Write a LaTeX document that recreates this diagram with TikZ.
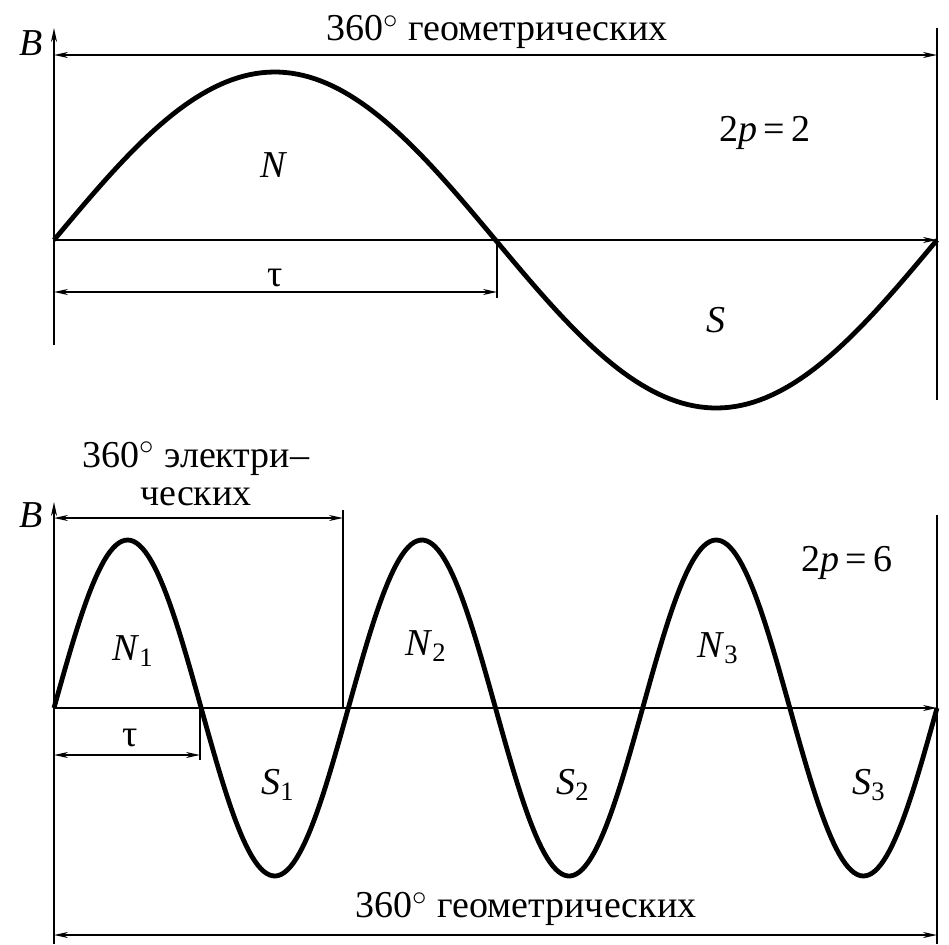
\documentclass[tikz,border=0pt]{standalone}
\usepackage{fontspec}
\setmainfont{Liberation Serif}
\usetikzlibrary{arrows.meta}
\begin{document}
\begin{tikzpicture}[
x=0.5pt,y=-0.5pt,
thinline/.style={line width=0.9pt},
dim/.style={line width=0.9pt,{Stealth[length=7pt,width=3pt]}-{Stealth[length=7pt,width=3pt]}},
axis/.style={line width=0.9pt,-{Stealth[length=7pt,width=3pt]}},
wave/.style={line width=2.4pt,line join=round},
every node/.style={font=\fontsize{19}{19}\selectfont,inner sep=0pt}
]
\useasboundingbox (0,0) rectangle (949,944);

% upper graph, 2p=2
\coordinate (o1) at (54,240);
\coordinate (e1) at (937,240);
\coordinate (t1) at (54,28);
\coordinate (b1) at (54,345);
\coordinate (r1t) at (937,28);
\coordinate (r1b) at (937,400);
\coordinate (d1l) at (54,55);
\coordinate (d1r) at (937,55);
\coordinate (z1) at (497,240);
\coordinate (z1b) at (497,298);
\coordinate (tau1l) at (54,292);
\coordinate (tau1r) at (497,292);

\draw[axis] (b1) -- (t1);
\draw[axis] (o1) -- (e1);
\draw[thinline] (r1t) -- (r1b);
\draw[dim] (d1l) -- (d1r);
\draw[thinline] (z1) -- (z1b);
\draw[dim] (tau1l) -- (tau1r);
\draw[wave] plot[domain=54:937,samples=150] (\x,{240-168*sin((\x-54)/883*360)});

\node (B1) at (31,43) {\textit{B}};
\node (geo1) at (497,32) {360$^{\circ}$ геометрических};
\node (N) at (274,165) {\textit{N}};
\node (S) at (716,320) {\textit{S}};
\node (p1) at (765,133) {2\textit{p}\,=\,2};
\node (tau1) at (275,278) {τ};

% lower graph, 2p=6
\coordinate (o2) at (54,708);
\coordinate (e2) at (937,708);
\coordinate (t2) at (54,502);
\coordinate (b2) at (54,944);
\coordinate (r2t) at (937,515);
\coordinate (r2b) at (937,944);
\coordinate (d2l) at (54,518);
\coordinate (d2r) at (343,518);
\coordinate (v2t) at (343,510);
\coordinate (v2b) at (343,708);
\coordinate (z2) at (200,708);
\coordinate (z2b) at (200,760);
\coordinate (tau2l) at (54,755);
\coordinate (tau2r) at (200,755);
\coordinate (d3l) at (54,935);
\coordinate (d3r) at (937,935);

\draw[axis] (b2) -- (t2);
\draw[axis] (o2) -- (e2);
\draw[thinline] (r2t) -- (r2b);
\draw[thinline] (v2t) -- (v2b);
\draw[dim] (d2l) -- (d2r);
\draw[thinline] (z2) -- (z2b);
\draw[dim] (tau2l) -- (tau2r);
\draw[dim] (d3l) -- (d3r);
\draw[wave] plot[domain=54:937,samples=300] (\x,{708-168*sin((\x-54)/883*1080)});

\node (B2) at (31,515) {\textit{B}};
\node[align=center] (el) at (196,474) {360$^{\circ}$ электри–\\ческих};
\node (N1) at (133,651) {\textit{N}\textsubscript{1}};
\node (N2) at (426,646) {\textit{N}\textsubscript{2}};
\node (N3) at (718,648) {\textit{N}\textsubscript{3}};
\node (S1) at (278,785) {\textit{S}\textsubscript{1}};
\node (S2) at (573,785) {\textit{S}\textsubscript{2}};
\node (S3) at (869,785) {\textit{S}\textsubscript{3}};
\node (p2) at (847,563) {2\textit{p}\,=\,6};
\node (tau2) at (130,738) {τ};
\node (geo2) at (526,909) {360$^{\circ}$ геометрических};
\end{tikzpicture}
\end{document}
